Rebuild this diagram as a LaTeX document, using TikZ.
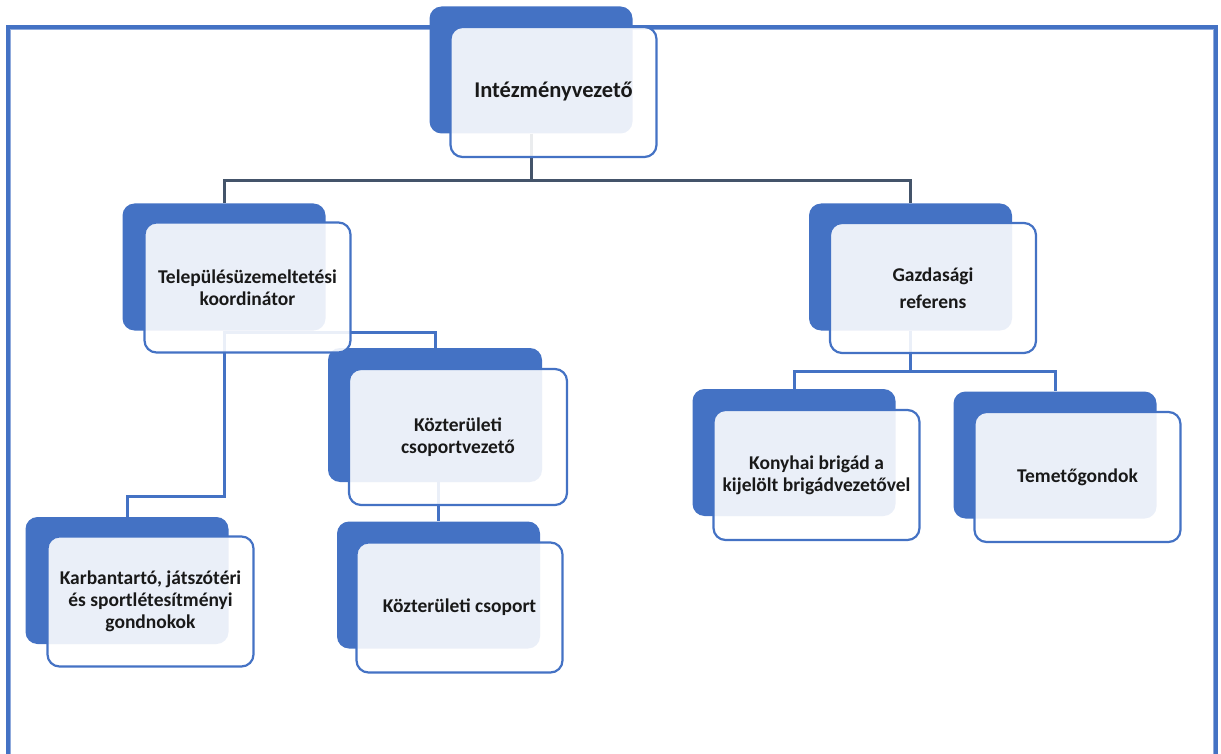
\documentclass[tikz,border=0pt]{standalone}
\usepackage{fontspec}
\setmainfont{Carlito}
\usetikzlibrary{backgrounds}
\definecolor{kek}{HTML}{4472C4}
\definecolor{sotet}{HTML}{44546A}
\definecolor{halvany}{HTML}{8FAADC}

\begin{document}
\begin{tikzpicture}[x=1pt, y=-1pt,
	hatter/.style={fill=kek, rounded corners=12pt, minimum width=203pt, minimum height=127pt, inner sep=0pt},
	doboz/.style={draw=kek, line width=2.2pt, fill=white, fill opacity=0.89, text opacity=1, rounded corners=12pt,
		minimum width=206pt, minimum height=130pt, inner sep=0pt, align=center, text=black!90,
		font=\bfseries\fontsize{19.5}{22}\selectfont},
	vonal/.style={line width=3pt, sotet},
	agvonal/.style={line width=3pt, kek}]
 \useasboundingbox (0,0) rectangle (1221,754);

	% Hatter dobozok
 \node[hatter] (vezh) at (531,70) {};
 \node[hatter] (telh) at (224,267) {};
 \node[hatter] (gazh) at (910.5,267) {};
 \node[hatter, minimum width=214pt, minimum height=134pt] (kcvh) at (435,415) {};
 \node[hatter] (karh) at (127,580.5) {};
 \node[hatter] (kcsh) at (438.5,585) {};
 \node[hatter] (konh) at (794,452.5) {};
 \node[hatter] (temh) at (1055,455) {};

	% Elso dobozok
 \node[doboz, font=\bfseries\fontsize{22.5}{26}\selectfont] (vez) at (553.5,92) {Intézményvezető};
 \node[doboz] (tel) at (247.5,287.5) {Településüzemeltetési\\koordinátor};
 \node[doboz] (gaz) at (933,288) {Gazdasági\\[5pt]referens};
 \node[doboz, minimum width=218pt, minimum height=136pt] (kcv) at (458,437) {Közterületi\\csoportvezető};
 \node[doboz] (kar) at (150.5,601.5) {Karbantartó, játszótéri\\és sportlétesítményi\\gondnokok};
 \node[doboz] (kcs) at (459.5,607.5) {Közterületi csoport};
 \node[doboz] (kon) at (816.5,475) {Konyhai brigád a\\kijelölt brigádvezetővel};
 \node[doboz] (tem) at (1077.5,477) {Temetőgondok};

 \begin{pgfonlayer}{background}
	% Keret
 \draw[kek, line width=3.4pt] (8,27) rectangle (1216,800);
 \draw[halvany, line width=1.2pt] (10.8,29.8) rectangle (1213.2,800);

	% Osszekoto vonalak
 \draw[vonal] (vezh.south) -- ++(0,47) -| (telh.north);
 \draw[vonal] (vezh.south) -- ++(0,47) -| (gazh.north);
 \draw[agvonal] (telh.south) -- ++(0,2) -| (kcvh.north);
 \draw[agvonal] (telh.south) -- ++(0,166) -| (karh.north);
 \draw[agvonal] (kcvh.south -| kcsh.north) -- (kcsh.north);
 \draw[agvonal] (gazh.south) -- ++(0,41) -| (konh.north);
 \draw[agvonal] (gazh.south) -- ++(0,41) -| (temh.north);
 \end{pgfonlayer}

\end{tikzpicture}
\end{document}
